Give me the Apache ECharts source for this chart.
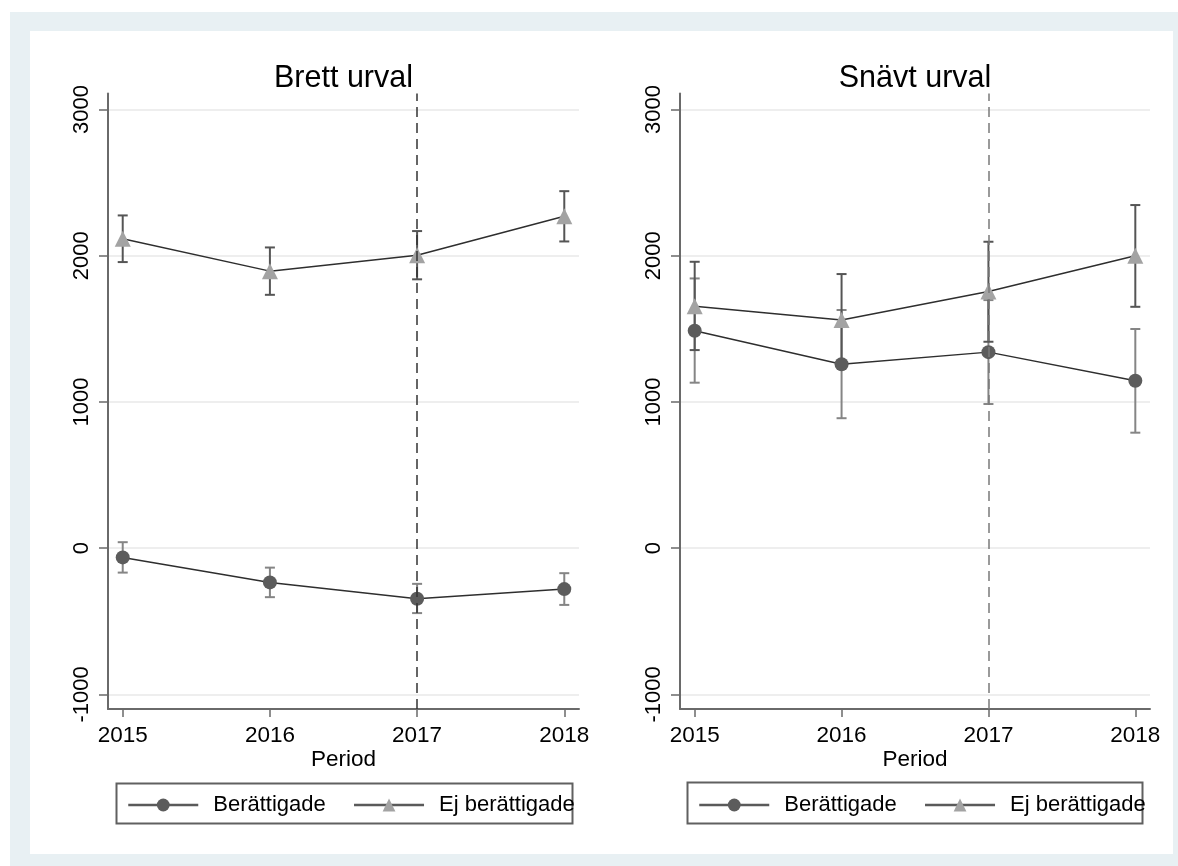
<!DOCTYPE html>
<html>
<head>
<meta charset="utf-8">
<title>Berättigade och ej berättigade per period</title>
<script src="https://cdn.jsdelivr.net/npm/echarts@6/dist/echarts.min.js"></script>
<style>
  html, body { margin: 0; padding: 0; background: #ffffff; }
  #chart { width: 1178px; height: 866px; }
</style>
</head>
<body>
<div id="chart"></div>
<script>
// Periods on the x axis and tick values on the y axis
const years = [2015, 2016, 2017, 2018];
const yTicks = [-1000, 0, 1000, 2000, 3000];
const reformYear = 2017;
const panelTitles = ['Brett urval', 'Snävt urval'];
const seriesNames = ['Berättigade', 'Ej berättigade'];

// Brett urval: point estimates with confidence limits
const brettBer = [-63, -234, -346, -280];
const brettBerLo = [-167, -335, -444, -388];
const brettBerHi = [41, -133, -244, -171];
const brettEj = [2117, 1895, 2004, 2270];
const brettEjLo = [1957, 1733, 1839, 2098];
const brettEjHi = [2276, 2057, 2169, 2442];

// Snävt urval: point estimates with confidence limits
const snavtBer = [1487, 1258, 1341, 1145];
const snavtBerLo = [1132, 889, 986, 790];
const snavtBerHi = [1845, 1629, 1697, 1499];
const snavtEj = [1655, 1560, 1755, 2000];
const snavtEjLo = [1355, 1245, 1412, 1651];
const snavtEjHi = [1959, 1875, 2096, 2347];

const FONT = '"Liberation Sans", Arial, sans-serif';
const AXIS_GREY = '#6a6a6a';

const grids = [
  { left: 108, top: 93.5, width: 471, height: 615.5 },
  { left: 680, top: 93.5, width: 470, height: 615.5 }
];

function pairs(xs, ys) { return xs.map((x, i) => [x, ys[i]]); }
function triples(xs, lo, hi) { return xs.map((x, i) => [x, lo[i], hi[i]]); }
function plainNumber(v) { return String(v); }

// Capped vertical spikes for the confidence intervals
function capRenderer(color) {
  return function (params, api) {
    const x = api.value(0);
    const top = api.coord([x, api.value(2)]);
    const bot = api.coord([x, api.value(1)]);
    const hw = 5;
    const style = { stroke: color, lineWidth: 2 };
    return {
      type: 'group',
      children: [
        { type: 'line', shape: { x1: top[0], y1: top[1], x2: bot[0], y2: bot[1] }, style },
        { type: 'line', shape: { x1: top[0] - hw, y1: top[1], x2: top[0] + hw, y2: top[1] }, style },
        { type: 'line', shape: { x1: bot[0] - hw, y1: bot[1], x2: bot[0] + hw, y2: bot[1] }, style }
      ]
    };
  };
}

const panels = [
  { ber: brettBer, berLo: brettBerLo, berHi: brettBerHi, ej: brettEj, ejLo: brettEjLo, ejHi: brettEjHi, xline: '#333333' },
  { ber: snavtBer, berLo: snavtBerLo, berHi: snavtBerHi, ej: snavtEj, ejLo: snavtEjLo, ejHi: snavtEjHi, xline: '#7a7a7a' }
];

const xAxes = grids.map((g, i) => ({
  type: 'value', gridIndex: i, min: 2014.9, max: 2018.1,
  name: 'Period', nameLocation: 'middle', nameGap: 39, nameMoveOverlap: false,
  nameTextStyle: { fontSize: 22.5, color: '#000', fontFamily: FONT },
  axisLine: { show: true, onZero: false, lineStyle: { color: AXIS_GREY, width: 2 } },
  axisTick: { show: true, length: 8, customValues: years, lineStyle: { color: AXIS_GREY, width: 1.5 } },
  axisLabel: { customValues: years, formatter: plainNumber, margin: 15, fontSize: 22.5, color: '#000', fontFamily: FONT },
  splitLine: { show: false }
}));

const yAxes = grids.map((g, i) => ({
  type: 'value', gridIndex: i, min: -1100, max: 3110,
  axisLine: { show: true, onZero: false, lineStyle: { color: AXIS_GREY, width: 2 } },
  axisTick: { show: true, length: 9, customValues: yTicks, lineStyle: { color: AXIS_GREY, width: 1.5 } },
  axisLabel: { customValues: yTicks, formatter: plainNumber, rotate: 90, margin: 15, fontSize: 22, color: '#000', fontFamily: FONT },
  splitLine: { show: true, lineStyle: { color: '#e8e8e8', width: 1.5 } }
}));

const series = [];
panels.forEach((p, i) => {
  series.push({
    type: 'custom', name: 'ci-ber-' + i, xAxisIndex: i, yAxisIndex: i,
    renderItem: capRenderer('#858585'),
    encode: { x: 0, y: [1, 2] },
    data: triples(years, p.berLo, p.berHi),
    silent: true,
    markLine: {
      silent: true, symbol: 'none', label: { show: false },
      lineStyle: { color: p.xline, type: [10, 6], width: 1.5 },
      data: [{ xAxis: reformYear }]
    }
  });
  series.push({
    type: 'custom', name: 'ci-ej-' + i, xAxisIndex: i, yAxisIndex: i,
    renderItem: capRenderer('#555555'),
    encode: { x: 0, y: [1, 2] },
    data: triples(years, p.ejLo, p.ejHi),
    silent: true
  });
  series.push({
    type: 'line', name: seriesNames[0], xAxisIndex: i, yAxisIndex: i,
    data: pairs(years, p.ber),
    symbol: 'circle', symbolSize: 14,
    itemStyle: { color: '#5c5c5c' },
    lineStyle: { color: '#2e2e2e', width: 1.5 },
    emphasis: { disabled: true }
  });
  series.push({
    type: 'line', name: seriesNames[1], xAxisIndex: i, yAxisIndex: i,
    data: pairs(years, p.ej),
    symbol: 'triangle', symbolSize: 16,
    itemStyle: { color: '#a3a3a3' },
    lineStyle: { color: '#2e2e2e', width: 1.5 },
    emphasis: { disabled: true }
  });
});

const legendBase = {
  top: 792, padding: 0, itemWidth: 70, itemHeight: 16, itemGap: 27,
  selectedMode: false, data: seriesNames,
  lineStyle: { color: '#5a5a5a', width: 2.5 },
  textStyle: { fontSize: 22, lineHeight: 26, color: '#000', fontFamily: FONT, padding: [0, 0, 0, 10] }
};

const option = {
  backgroundColor: '#ffffff',
  animation: false,
  title: panelTitles.map((t, i) => ({
    text: t, left: grids[i].left + grids[i].width / 2, textAlign: 'center', top: 63, padding: 0,
    textStyle: { fontSize: 30.5, fontWeight: 'normal', color: '#000', fontFamily: FONT }
  })),
  grid: grids,
  xAxis: xAxes,
  yAxis: yAxes,
  legend: [
    Object.assign({}, legendBase, { left: 127 }),
    Object.assign({}, legendBase, { left: 698 })
  ],
  graphic: [
    { type: 'rect', z: -100, shape: { x: 10, y: 12, width: 1168, height: 854 }, style: { fill: '#e8f0f3' } },
    { type: 'rect', z: -99, shape: { x: 30, y: 31, width: 1143, height: 823 }, style: { fill: '#ffffff' } },
    { type: 'rect', shape: { x: 116.5, y: 783.5, width: 456, height: 40 }, style: { fill: 'none', stroke: '#606060', lineWidth: 2 } },
    { type: 'rect', shape: { x: 687.5, y: 782.5, width: 455, height: 41 }, style: { fill: 'none', stroke: '#606060', lineWidth: 2 } }
  ],
  series: series
};

const chart = echarts.init(document.getElementById('chart'), null, { renderer: 'canvas' });
chart.setOption(option);
</script>
</body>
</html>
